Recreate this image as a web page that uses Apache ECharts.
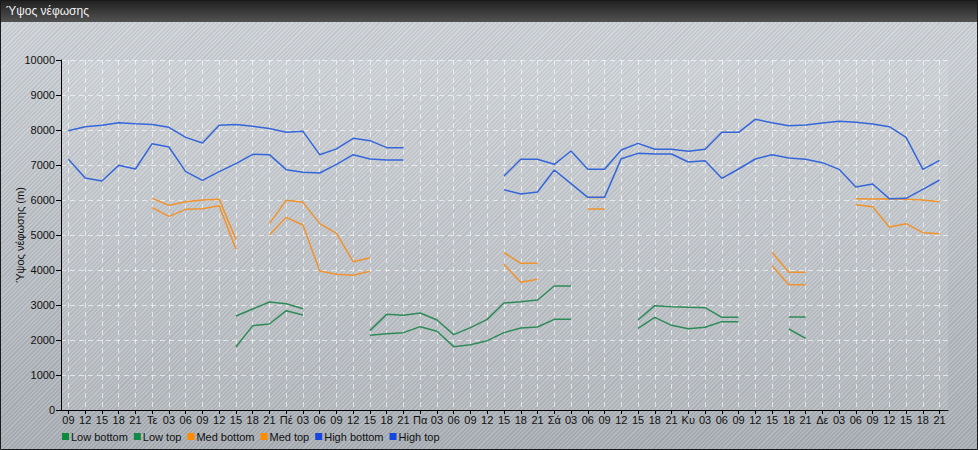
<!DOCTYPE html>
<html>
<head>
<meta charset="utf-8">
<script src="https://cdn.jsdelivr.net/npm/echarts@6/dist/echarts.min.js"></script>
<style>
html,body{margin:0;padding:0;}
#c{width:978px;height:450px;
background-image:repeating-linear-gradient(135deg, rgba(255,255,255,0.13) 0px, rgba(255,255,255,0.13) 1.5px, rgba(60,80,110,0.07) 1.5px, rgba(60,80,110,0.07) 3px), linear-gradient(to bottom, #cfd3d7, #a8adb2);}
</style>
</head>
<body>
<div id="c"></div>
<script>
const n = null;
const categories = ['09','12','15','18','21','Τε','03','06','09','12','15','18','21','Πέ','03','06','09','12','15','18','21','Πα','03','06','09','12','15','18','21','Σά','03','06','09','12','15','18','21','Κυ','03','06','09','12','15','18','21','Δε','03','06','09','12','15','18','21'];
const yTicks = [0,1000,2000,3000,4000,5000,6000,7000,8000,9000,10000];
const seriesNames = ['Low bottom','Low top','Med bottom','Med top','High bottom','High top'];
const lowBottom = [n,n,n,n,n,n,n,n,n,n, 1800,2410,2457,2838,2714, n,n,n, 2133,2181,2210,2381,2248,1810,1867,1981,2210,2343,2371,2590,2590, n,n,n, 2333,2648,2419,2324,2362,2524,2524, n,n, 2314,2048, n,n,n,n,n,n,n,n];
const lowTop = [n,n,n,n,n,n,n,n,n,n, 2686,2886,3086,3038,2895, n,n,n, 2267,2733,2705,2771,2571,2152,2352,2590,3057,3095,3143,3543,3543, n,n,n, 2571,2981,2952,2933,2924,2648,2648, n,n, 2657,2657, n,n,n,n,n,n,n,n];
const medBottom = [n,n,n,n,n, 5781,5533,5733,5752,5838,4590, n, 5000,5505,5286,3971,3876,3848,3962, n,n,n,n,n,n,n, 4162,3648,3733, n,n, 5743,5743, n,n,n,n,n,n,n,n,n, 4124,3581,3581, n,n, 5867,5810,5229,5324,5067,5038];
const medTop = [n,n,n,n,n, 6048,5848,5952,6000,6019,4876, n, 5333,5990,5933,5324,5048,4238,4352, n,n,n,n,n,n,n, 4495,4190,4190, n,n, 6070,6070, n,n,n,n,n,n,n,n,n, 4505,3933,3933, n,n, 6038,6029,6038,6019,6000,5952];
const highBottom = [7162,6629,6543,6990,6886,7610,7514,6810,6562,6810,7038,7305,7295,6867,6790,6771,7020,7295,7171,7143,7143, n,n,n,n,n, 6295,6171,6229,6857,6470,6076,6076,7181,7333,7314,7314,7086,7124,6619,6886,7171,7295,7200,7162,7067,6876,6371,6457,6038,6048,6305,6571];
const highTop = [7980,8094,8133,8210,8180,8160,8076,7790,7630,8133,8160,8105,8040,7933,7962,7295,7460,7762,7695,7495,7495, n,n,n,n,n, 6686,7162,7162,7019,7400,6876,6876,7428,7619,7448,7448,7390,7448,7933,7933,8305,8210,8124,8143,8200,8248,8219,8171,8095,7790,6876,7133];

const lineColors = ['#2e8b57','#2e8b57','#f0922e','#f0922e','#3466da','#3466da'];
const iconColors = ['#0c8a3e','#118a45','#ff8c00','#ff8c00','#1446e0','#1446e0'];
const dataSets = [lowBottom, lowTop, medBottom, medTop, highBottom, highTop];

const chart = echarts.init(document.getElementById('c'), null, {renderer:'svg'});
const font = 'Liberation Sans, Arial, sans-serif';
const series = seriesNames.map((name, i) => ({
  name: name, type: 'line', xAxisIndex: 1, yAxisIndex: 1,
  data: dataSets[i], showSymbol: false, symbol: 'none', connectNulls: false,
  lineStyle: {color: lineColors[i], width: 1.5},
  itemStyle: {color: iconColors[i]},
  silent: true, animation: false
}));

chart.setOption({
  animation: false,
  backgroundColor: 'transparent',
  graphic: [
    {type:'rect', z: 10, shape:{x:0,y:0,width:978,height:22},
     style:{fill:{type:'linear',x:0,y:0,x2:0,y2:1,colorStops:[{offset:0,color:'#1f1f1f'},{offset:1,color:'#525252'}]}}},
    {type:'text', z: 11, left: 6, top: 5, style:{text:'Ύψος νέφωσης', fill:'#f2f2f2', font:'12px ' + font}},
    {type:'rect', z: 12, shape:{x:0.5,y:0.5,width:977,height:449}, style:{fill:'none', stroke:'#1a1a1a', lineWidth:1}}
  ],
  legend: {
    left: 57, top: 426, itemWidth: 7, itemHeight: 7, itemGap: 6,
    icon: 'rect',
    data: seriesNames,
    textStyle: {fontSize: 11, fontFamily: font, color: '#111', padding: [0,0,0,-3]}
  },
  grid: [
    {left: 61, right: 30, top: 60, bottom: 40, show: true, backgroundColor: 'rgba(255,255,255,0.10)', borderWidth: 0},
    {left: 68.4, right: 38.4, top: 60, bottom: 40}
  ],
  xAxis: [
    {gridIndex: 0, type: 'value', min: 0, max: 1, axisLine: {show: true, onZero: false, lineStyle: {color: '#000', width: 1}},
     axisTick: {show: false}, axisLabel: {show: false}, splitLine: {show: false}},
    {gridIndex: 1, type: 'category', data: categories, boundaryGap: false,
     axisLine: {show: false},
     axisTick: {show: true, length: 4, interval: 0, lineStyle: {color: '#000'}},
     axisLabel: {interval: 0, margin: 4, fontSize: 11, fontFamily: font, color: '#111'},
     splitLine: {show: true, interval: 0, lineStyle: {color: 'rgba(255,255,255,0.6)', type: [5,4], width: 1}}}
  ],
  yAxis: [
    {gridIndex: 0, type: 'value', min: 0, max: 10000, interval: 1000,
     name: 'Ύψος νέφωσης (m)', nameLocation: 'middle', nameGap: 36, nameRotate: 90, nameMoveOverlap: false,
     nameTextStyle: {fontSize: 11, fontFamily: font, color: '#111'},
     axisLine: {show: true, lineStyle: {color: '#000', width: 1}},
     axisTick: {show: true, length: 5, lineStyle: {color: '#000'}},
     axisLabel: {margin: 6, fontSize: 11, fontFamily: font, color: '#111',
       formatter: v => yTicks.indexOf(v) >= 0 ? String(v) : ''},
     splitLine: {show: true, lineStyle: {color: 'rgba(255,255,255,0.6)', type: [5,4], width: 1}}},
    {gridIndex: 1, type: 'value', min: 0, max: 10000, interval: 1000, show: false, splitLine: {show: false}}
  ],
  series: series
});
</script>
</body>
</html>
